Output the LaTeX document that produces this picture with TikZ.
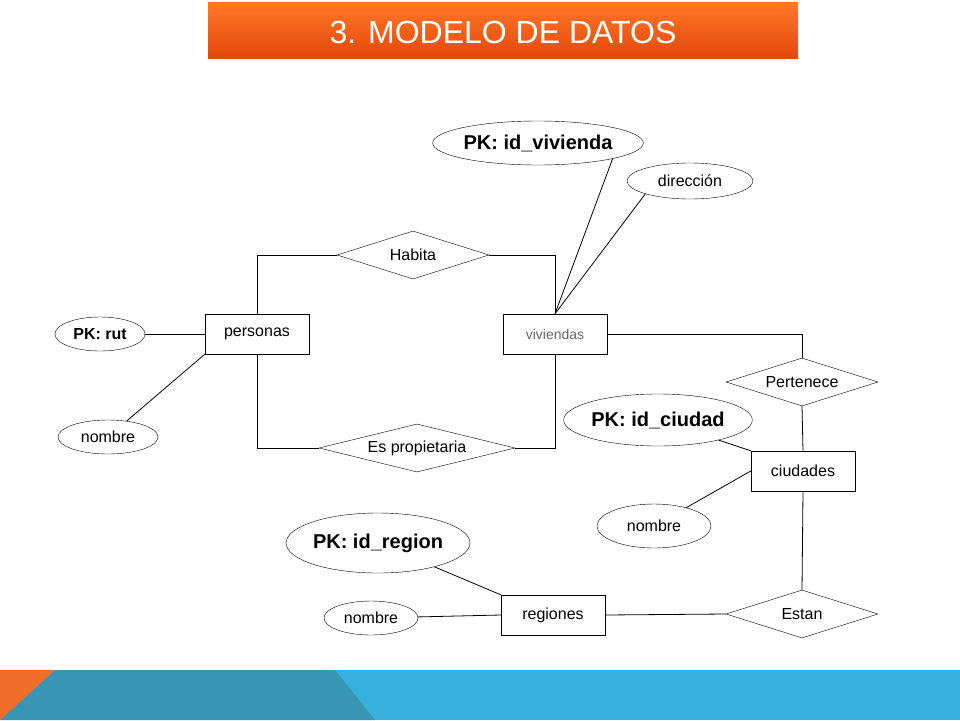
\documentclass[tikz,border=0pt]{standalone}
\usepackage{fontspec}
\setmainfont{Liberation Sans}
\usetikzlibrary{shapes.geometric, positioning}
\definecolor{titletop}{RGB}{255,120,40}
\definecolor{titlebot}{RGB}{228,72,12}
\definecolor{bandteal}{RGB}{56,150,180}
\definecolor{bandblue}{RGB}{56,176,222}
\definecolor{bandorange}{RGB}{240,110,40}
\begin{document}
\begin{tikzpicture}[
        x=1pt, y=-1pt,
        ent/.style={draw, rectangle, minimum width=104pt, minimum height=40pt, inner sep=0pt, font=\fontsize{16}{18}\selectfont},
        attr/.style={draw, ellipse, inner sep=0pt, font=\fontsize{16}{18}\selectfont},
        pk/.style={draw, ellipse, inner sep=0pt, font=\bfseries\fontsize{20}{22}\selectfont},
        rel/.style={draw, diamond, aspect=3, inner sep=0pt, minimum width=152pt, minimum height=48pt, font=\fontsize{16}{18}\selectfont},
        link/.style={thick}
    ]
        \useasboundingbox (0,0) rectangle (960,720);
        % title and bottom band
        \shade[top color=titletop, bottom color=titlebot] (208,2) rectangle (798,58);
        \node[text=white, font=\fontsize{32}{34}\selectfont] (title) at (503,32) {3. MODELO DE DATOS};
        \fill[bandblue] (0,670) rectangle (960,720);
        \fill[bandteal] (0,670) -- (335,670) -- (375,720) -- (0,720) -- cycle;
        \fill[bandorange] (0,670) -- (55,670) -- (0,720) -- cycle;
        % entities
        \node[ent] (pers) at (257,334) {personas};
        \node[ent, text=black!60, font=\fontsize{14}{16}\selectfont] (viv) at (555,334) {viviendas};
        \node[ent] (ciu) at (803,471) {ciudades};
        \node[ent] (reg) at (553,615) {regiones};
        % relations
        \node[rel] (hab) at (413,255) {Habita};
        \node[rel, minimum width=196pt] (prop) at (417,448) {Es propietaria};
        \node[rel] (pert) at (802,382) {Pertenece};
        \node[rel] (est) at (802,614) {Estan};
        % attributes
        \node[pk, minimum width=196pt, minimum height=44pt] (pkviv) at (538,143) {PK: id\_vivienda};
        \node[attr, minimum width=126pt, minimum height=36pt] (dir) at (690,181) {dirección};
        \node[pk, font=\bfseries\fontsize{16}{18}\selectfont, minimum width=90pt, minimum height=34pt] (pkrut) at (100,334) {PK: rut};
        \node[attr, minimum width=100pt, minimum height=34pt] (nompers) at (108,437) {nombre};
        \node[pk, minimum width=168pt, minimum height=52pt] (pkciu) at (658,420) {PK: id\_ciudad};
        \node[attr, minimum width=114pt, minimum height=44pt] (nomciu) at (654,526) {nombre};
        \node[pk, minimum width=176pt, minimum height=60pt] (pkreg) at (378,543) {PK: id\_region};
        \node[attr, minimum width=94pt, minimum height=34pt] (nomreg) at (371,618) {nombre};
        % connectors
        \draw[link] (pers.north) |- (hab.west);
        \draw[link] (hab.east) -| (viv.north);
        \draw[link] (pers.south) |- (prop.west);
        \draw[link] (prop.east) -| (viv.south);
        \draw[link] (pkrut) -- (pers.west);
        \draw[link] (nompers) -- (pers.south west);
        \draw[link] (viv.north) -- (pkviv.south east);
        \draw[link] (viv.north) -- (dir.south west);
        \draw[link] (viv.east) -| (pert.north);
        \draw[link] (pert.south) -- (ciu.north);
        \draw[link] (pkciu) -- (ciu.north west);
        \draw[link] (nomciu) -- (ciu.west);
        \draw[link] (ciu.south) -- (est.north);
        \draw[link] (est.west) -- (reg.east);
        \draw[link] (pkreg) -- (reg.north west);
        \draw[link] (nomreg) -- (reg.west);
    \end{tikzpicture}
\end{document}
